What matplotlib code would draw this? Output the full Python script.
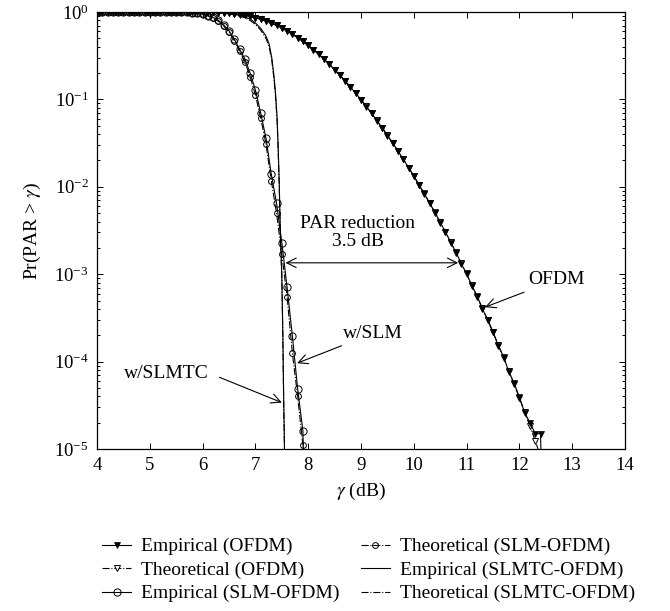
import numpy as np
import matplotlib
matplotlib.use('Agg')
import matplotlib.pyplot as plt
from matplotlib.ticker import LogLocator, NullFormatter, FixedLocator

plt.rcParams['font.family'] = ['Liberation Serif', 'DejaVu Serif']
plt.rcParams['mathtext.fontset'] = 'stix'

# ---------------- data ----------------
gamma_ofdm = np.round(np.arange(4.0, 12.45, 0.1), 1)          # 4.0 ... 12.4
ofdm_theo = [1.0] * 15 + [
    0.9998, 0.9996, 0.9993, 0.9987, 0.9977, 0.9961, 0.9936, 0.9898, 0.9843, 0.9767,
    0.9665, 0.9531, 0.9360, 0.9148, 0.8894, 0.8596, 0.8257, 0.7878, 0.7462, 0.7015,
    0.6549, 0.6066, 0.5578, 0.5088, 0.4610, 0.4143, 0.3700, 0.3277, 0.2889, 0.2525,
    0.2196, 0.1895, 0.1626, 0.1387, 0.1176, 0.0991, 0.0831, 0.0693, 0.0574, 0.0473,
    0.0388, 0.0317, 0.0257, 0.0207, 0.0166, 0.0133, 0.0105, 0.0083, 0.00651, 0.00508,
    0.00394, 0.00303, 0.00232, 0.00177, 0.00134, 0.00100, 7.47e-4, 5.53e-4, 4.07e-4, 2.97e-4,
    2.16e-4, 1.55e-4, 1.11e-4, 7.85e-5, 5.52e-5, 3.85e-5, 2.66e-5, 1.82e-5, 1.24e-5, 8.3e-6]

gamma_ofdm_emp = list(gamma_ofdm) + [12.45]
ofdm_emp = [1.0] * 15 + [
    0.9998, 0.9996, 0.9993, 0.9988, 0.9978, 0.9962, 0.9935, 0.9899, 0.9841, 0.9769,
    0.9662, 0.9534, 0.9355, 0.9151, 0.8890, 0.8601, 0.8250, 0.7885, 0.7455, 0.7021,
    0.6540, 0.6072, 0.5570, 0.5095, 0.4602, 0.4150, 0.3692, 0.3284, 0.2880, 0.2531,
    0.2190, 0.1901, 0.1620, 0.1392, 0.1170, 0.0995, 0.0827, 0.0697, 0.0570, 0.0476,
    0.0385, 0.0319, 0.0255, 0.0209, 0.0164, 0.0134, 0.0104, 0.0084, 0.00645, 0.00512,
    0.00390, 0.00306, 0.00229, 0.00179, 0.00131, 0.00102, 7.35e-4, 5.62e-4, 4.00e-4, 3.02e-4,
    2.20e-4, 1.52e-4, 1.14e-4, 7.6e-5, 5.7e-5, 3.9e-5, 2.6e-5, 2.0e-5, 1.5e-5, 1.5e-5, 1e-6]

gamma_slm_emp = list(np.round(np.arange(4.0, 7.95, 0.1), 1)) + [7.95]   # 4.0 ... 7.9, drop
slm_emp = [1.0] * 15 + [
    0.998, 0.995, 0.990, 0.982, 0.968, 0.947, 0.910, 0.865, 0.800, 0.710,
    0.610, 0.490, 0.375, 0.290, 0.200, 0.128, 0.070, 0.036, 0.0140, 6.5e-3,
    2.3e-3, 7.1e-4, 1.96e-4, 4.9e-5, 1.6e-5, 1e-6]

gamma_slm_theo = np.round(np.arange(4.0, 8.05, 0.1), 1)          # 4.0 ... 8.0
slm_theo = [1.0] * 15 + [
    0.997, 0.994, 0.988, 0.979, 0.963, 0.940, 0.900, 0.850, 0.780, 0.690,
    0.590, 0.470, 0.360, 0.270, 0.180, 0.113, 0.061, 0.031, 0.0118, 5.0e-3,
    1.7e-3, 5.5e-4, 1.26e-4, 4.0e-5, 1.1e-5, 2.5e-6]

gamma_slmtc = [4.0, 5.0, 5.5, 5.8, 6.0, 6.2, 6.4, 6.6, 6.8, 6.9, 7.0, 7.1, 7.2, 7.26,
               7.31, 7.35, 7.38, 7.41, 7.43, 7.45, 7.47, 7.50, 7.52, 7.535, 7.55, 7.56]
slmtc_emp = [1.0, 1.0, 0.999, 0.998, 0.996, 0.99, 0.975, 0.945, 0.88, 0.83, 0.75, 0.65,
             0.53, 0.43, 0.30, 0.19, 0.12, 0.063, 0.03, 0.012, 3.5e-3, 1.0e-3, 2.0e-4,
             4e-5, 1.2e-5, 1e-6]
gamma_slmtc_theo = [4.0, 5.0, 5.5, 5.8, 6.0, 6.2, 6.4, 6.6, 6.8, 6.9, 7.0, 7.1, 7.2, 7.26,
                    7.31, 7.35, 7.38, 7.41, 7.43, 7.45, 7.47, 7.50, 7.52, 7.535, 7.55, 7.57]
slmtc_theo = [1.0, 1.0, 0.999, 0.997, 0.994, 0.985, 0.967, 0.93, 0.86, 0.80, 0.72, 0.62,
              0.50, 0.40, 0.28, 0.175, 0.11, 0.058, 0.027, 0.011, 3.2e-3, 9e-4, 1.8e-4,
              3.5e-5, 1e-5, 5e-7]

x_ticks = [4, 5, 6, 7, 8, 9, 10, 11, 12, 13, 14]
labels = ['Empirical (OFDM)', 'Theoretical (OFDM)', 'Empirical (SLM-OFDM)',
          'Theoretical (SLM-OFDM)', 'Empirical (SLMTC-OFDM)', 'Theoretical (SLMTC-OFDM)']

# ---------------- figure ----------------
fig = plt.figure(figsize=(6.7, 6.11), dpi=100)
ax = fig.add_axes([0.1448, 0.2651, 0.788, 0.7153])
lw = 0.8
ms = 4.5
fs = 14

h_slmtc_t, = ax.semilogy(gamma_slmtc_theo, slmtc_theo, color='k', ls='-.', lw=lw)
h_slmtc_e, = ax.semilogy(gamma_slmtc, slmtc_emp, color='k', ls='-', lw=lw)
h_slm_t, = ax.semilogy(gamma_slm_theo, slm_theo, color='k', ls='-.', lw=lw,
                       marker='o', ms=4.2, mfc='none', mec='k', mew=0.7)
h_slm_e, = ax.semilogy(gamma_slm_emp, slm_emp, color='k', ls='-', lw=lw,
                       marker='o', ms=5.2, mfc='none', mec='k', mew=0.7,
                       markevery=list(range(len(slm_emp) - 1)))
h_ofdm_t, = ax.semilogy(gamma_ofdm, ofdm_theo, color='k', ls='-.', lw=lw,
                        marker='v', ms=ms, mfc='white', mec='k', mew=0.7)
h_ofdm_e, = ax.semilogy(gamma_ofdm_emp, ofdm_emp, color='k', ls='-', lw=lw,
                        marker='v', ms=ms, mfc='k', mec='k', mew=0.5,
                        markevery=list(range(len(ofdm_emp) - 1)))

ax.set_xlim(4, 14)
ax.set_ylim(1e-5, 1)
ax.xaxis.set_major_locator(FixedLocator(x_ticks))
ax.yaxis.set_major_locator(LogLocator(base=10, numticks=10))
ax.yaxis.set_minor_locator(LogLocator(base=10, subs=np.arange(2, 10), numticks=20))
ax.yaxis.set_minor_formatter(NullFormatter())
ax.tick_params(which='both', direction='in', top=True, right=True, labelsize=13.5, width=0.7)
ax.tick_params(which='major', length=4.5, pad=6)
ax.tick_params(which='minor', length=2.5)
for s in ax.spines.values():
    s.set_linewidth(0.9)

ax.set_xlabel(r'$\gamma$ (dB)', fontsize=fs, labelpad=5)
ax.set_ylabel(r'Pr(PAR > $\gamma$)', fontsize=fs, labelpad=8)

# annotations
ax.text(8.94, 3.0e-3, 'PAR reduction\n3.5 dB', ha='center', va='center',
        fontsize=fs, linespacing=1.1)
ax.annotate('', xy=(10.84, 1.35e-3), xytext=(7.57, 1.35e-3),
            arrowprops=dict(arrowstyle='<->', lw=0.8, color='k', mutation_scale=17,
                            shrinkA=0, shrinkB=0))
ax.annotate('OFDM', xy=(11.35, 4.2e-4), xytext=(12.16, 8.6e-4), ha='left', va='center',
            fontsize=fs,
            arrowprops=dict(arrowstyle='->', lw=0.8, color='k', mutation_scale=17,
                            shrinkA=2, shrinkB=0))
ax.annotate('w/SLM', xy=(7.79, 9.6e-5), xytext=(8.66, 2.1e-4), ha='left', va='center',
            fontsize=fs,
            arrowprops=dict(arrowstyle='->', lw=0.8, color='k', mutation_scale=17,
                            shrinkA=2, shrinkB=0))
ax.annotate('w/SLMTC', xy=(7.50, 3.4e-5), xytext=(6.12, 7.4e-5), ha='right', va='center',
            fontsize=fs,
            arrowprops=dict(arrowstyle='->', lw=0.8, color='k', mutation_scale=17,
                            shrinkA=6, shrinkB=0, relpos=(1.0, 0.5)))

handles = [h_ofdm_e, h_ofdm_t, h_slm_e, h_slm_t, h_slmtc_e, h_slmtc_t]
fig.legend(handles, labels, ncol=2, loc='center', bbox_to_anchor=(0.55, 0.067),
           frameon=False, fontsize=fs, handlelength=1.5, handletextpad=0.5,
           columnspacing=1.1, labelspacing=0.3, borderpad=0.2)

fig.savefig('out.png', dpi=100)
